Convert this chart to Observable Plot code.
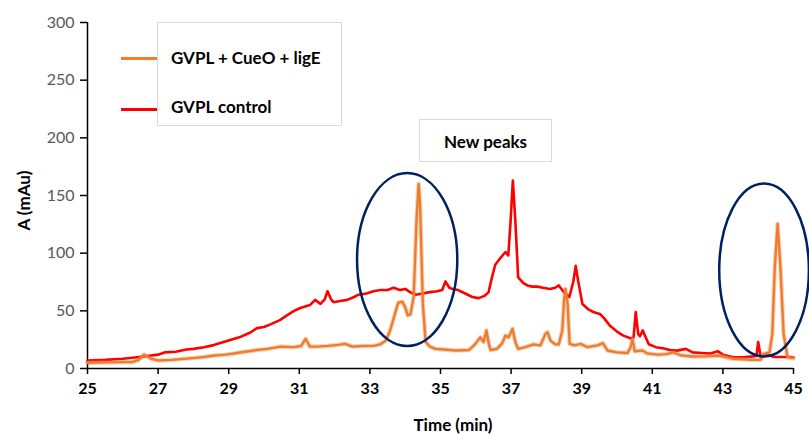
<!DOCTYPE html>
<html>
<head>
<meta charset="utf-8">
<script src="https://cdn.jsdelivr.net/npm/d3@7"></script>
<script src="https://cdn.jsdelivr.net/npm/@observablehq/plot@0.6"></script>
<style>
  html, body { margin: 0; padding: 0; background: #fff; }
  #wrap { position: relative; width: 809px; height: 439px; font-family: Lato, "Open Sans", sans-serif; }
  .ov { position: absolute; white-space: nowrap; font-weight: bold; color: #000; }
  .box { position: absolute; background: #fff; border: 1px solid #d9d9d9; box-sizing: border-box; }
  .sw { position: absolute; height: 3px; }
</style>
</head>
<body>
<div id="wrap"></div>
<script>
// ---- data ----
const controlTime = [25.0,25.5,26.0,26.6,27.0,27.2,27.5,27.8,28.0,28.3,28.6,28.97,29.3,29.6,29.8,30.0,30.2,30.45,30.67,30.85,31.03,31.3,31.45,31.6,31.72,31.8,31.9,31.97,32.15,32.36,32.55,32.68,32.9,33.1,33.3,33.5,33.67,33.85,34.0,34.15,34.3,34.5,34.66,34.9,35.05,35.14,35.25,35.34,35.5,35.7,35.9,36.08,36.25,36.36,36.45,36.55,36.7,36.84,36.92,36.98,37.05,37.12,37.2,37.35,37.46,37.6,37.75,37.9,38.1,38.25,38.35,38.5,38.65,38.76,38.83,38.9,39.02,39.2,39.33,39.53,39.65,39.8,40.0,40.18,40.4,40.47,40.53,40.6,40.65,40.73,40.8,40.9,41.1,41.3,41.5,41.7,41.95,42.14,42.4,42.65,42.85,43.0,43.27,43.58,43.87,43.95,44.0,44.07,44.26,44.45,44.63,44.9,45.0];
const controlValue = [7,7.5,8.5,10.4,12,14,14.5,16.5,17,18.5,20.5,24,27,31,35,36,38.5,42,46.5,50,52.5,55,59.5,56,60,67,60,57.5,58.5,59.5,62,64,65,67,68,68,70,68,69,66,64,65,66,67,68,75.5,70,69,68,65,62,61,63,66,78,90,96,101,98,125,163,128,79,74,72,71,71,70,69,70,72,66,62,75,89,76,56,51,49,47,43,37,32,28.5,26,27,49,30,28,33,28,21,18.5,17.5,16,15.5,17,14,13.5,13,15,12,10,9.8,10.5,11,23,10,12,10,10,10,9.5];

const enzymeTime = [25.0,25.5,26.0,26.27,26.45,26.6,26.72,26.8,27.0,27.4,27.97,28.3,28.54,28.9,29.14,29.45,29.8,30.1,30.47,30.84,31.05,31.18,31.3,31.5,31.8,32.1,32.3,32.5,32.8,33.1,33.3,33.44,33.55,33.64,33.8,33.92,34.0,34.07,34.15,34.24,34.32,34.38,34.42,34.5,34.58,34.7,34.86,35.1,35.43,35.8,35.95,36.13,36.22,36.3,36.38,36.42,36.6,36.75,36.84,36.93,37.04,37.12,37.2,37.4,37.63,37.83,37.97,38.03,38.12,38.25,38.35,38.45,38.5,38.54,38.6,38.66,38.8,38.97,39.16,39.45,39.6,39.73,40.0,40.3,40.38,40.44,40.5,40.72,40.86,41.17,41.4,41.6,41.8,42.14,42.5,42.88,43.27,43.58,43.78,44.07,44.15,44.32,44.4,44.47,44.55,44.63,44.72,44.83,44.9,45.0];
const enzymeValue = [5,5.3,5.5,5.5,7.5,12,10,8.4,7,7.5,9,10,11,12,13,14.5,16,17,19,18.5,19.5,25.7,19,19,19.6,20.5,21.4,19,19.5,19.6,21,24,31,40,57,58,53,46,47,62,128,160,143,56,23,19,17,16.5,15.6,16,20,27,23,33,20,16,17,22,28.6,27,34.4,23,17,18.5,20.8,20,30,31.5,24,21,20.8,33,59,69,56,21.4,20,21.4,18.5,20,22,15.6,14,13.5,18,25.7,15,15.6,13,12,12.5,14,11.5,10.4,10.5,11.3,8.5,8,7.5,7.5,12.7,14,30,88,125.5,88,30,9.8,9.3,9];

const seriesNames = ["GVPL + CueO + ligE", "GVPL control"];
const xTicks = [25,27,29,31,33,35,37,39,41,43,45];
const yTicks = [0,50,100,150,200,250,300];
const xTitle = "Time (min)";
const yTitle = "A (mAu)";
const noteText = "New peaks";

// highlighted regions (ellipses): centre time, centre value, half-width (min), half-height (mAu)
const ellipseTime = [34.07, 44.18];
const ellipseValue = [94, 85];
const ellipseHalfWidth = [1.42, 1.27];
const ellipseHalfHeight = [75, 75];

const ORANGE = "#ED7D31", RED = "#FF0000", NAVY = "#002060";

const control = controlTime.map((t, i) => ({t, v: controlValue[i]}));
const enzyme = enzymeTime.map((t, i) => ({t, v: enzymeValue[i]}));
const ellipses = ellipseTime.map((t, i) => ({t, v: ellipseValue[i], rx: ellipseHalfWidth[i], ry: ellipseHalfHeight[i]}));

function ellipseMark(index, scales) {
  const g = d3.create("svg:g");
  for (const e of ellipses) {
    const cx = scales.x(e.t), cy = scales.y(e.v);
    g.append("ellipse")
      .attr("cx", cx).attr("cy", cy)
      .attr("rx", Math.abs(scales.x(e.t + e.rx) - cx))
      .attr("ry", Math.abs(scales.y(e.v + e.ry) - cy))
      .attr("fill", "none").attr("stroke", NAVY).attr("stroke-width", 2.5);
  }
  return g.node();
}

const chart = Plot.plot({
  width: 809,
  height: 439,
  marginLeft: 87,
  marginRight: 16,
  marginTop: 22,
  marginBottom: 71,
  style: {fontFamily: "Lato, 'Open Sans', sans-serif", background: "transparent"},
  x: {domain: [25, 45]},
  y: {domain: [0, 300]},
  marks: [
    Plot.axisY({ticks: yTicks, tickSize: 7, tickPadding: 6, fontSize: 16, fill: "#595959", stroke: "#000", strokeWidth: 1.5, strokeOpacity: 1, label: null}),
    Plot.axisX({ticks: xTicks, tickSize: 6, tickPadding: 8, fontSize: 16, fontWeight: "bold", fill: "#000", stroke: "#000", strokeWidth: 1.5, strokeOpacity: 1, label: null, fontFamily: "'Liberation Sans Narrow', Lato, sans-serif"}),
    Plot.ruleX([25], {stroke: "#000", strokeWidth: 1.5}),
    Plot.ruleY([0], {stroke: "#000", strokeWidth: 1.5}),
    Plot.line(control, {x: "t", y: "v", stroke: RED, strokeWidth: 2.6, strokeLinejoin: "round"}),
    Plot.line(enzyme, {x: "t", y: "v", stroke: ORANGE, strokeWidth: 4.5, strokeOpacity: 0.35, strokeLinejoin: "round"}),
    Plot.line(enzyme, {x: "t", y: "v", stroke: ORANGE, strokeWidth: 2.4, strokeLinejoin: "round"}),
    ellipseMark
  ]
});

const wrap = document.getElementById("wrap");
chart.style.position = "absolute";
chart.style.left = "0px";
chart.style.top = "0px";
wrap.appendChild(chart);

function add(html) { const d = document.createElement("div"); d.innerHTML = html; wrap.appendChild(d.firstElementChild); }

// legend
add(`<div class="box" style="left:157px;top:22px;width:185px;height:104px;"></div>`);
add(`<div class="sw" style="left:121px;top:57px;width:36px;background:${ORANGE};"></div>`);
add(`<div class="sw" style="left:121px;top:108px;width:36px;background:${RED};"></div>`);
add(`<div class="ov" style="left:171px;top:47px;font-size:17px;">${seriesNames[0]}</div>`);
add(`<div class="ov" style="left:171px;top:96px;font-size:17px;">${seriesNames[1]}</div>`);
// note box
add(`<div class="box" style="left:419px;top:119px;width:133px;height:43px;"></div>`);
add(`<div class="ov" style="left:419px;top:131px;width:133px;text-align:center;font-size:17px;">${noteText}</div>`);
// axis titles
add(`<div class="ov" style="left:410px;top:414px;width:86px;text-align:center;font-size:17px;">${xTitle}</div>`);
add(`<div class="ov" style="left:-22px;top:190px;width:90px;text-align:center;font-size:17px;transform:rotate(-90deg);">${yTitle}</div>`);
</script>
</body>
</html>
